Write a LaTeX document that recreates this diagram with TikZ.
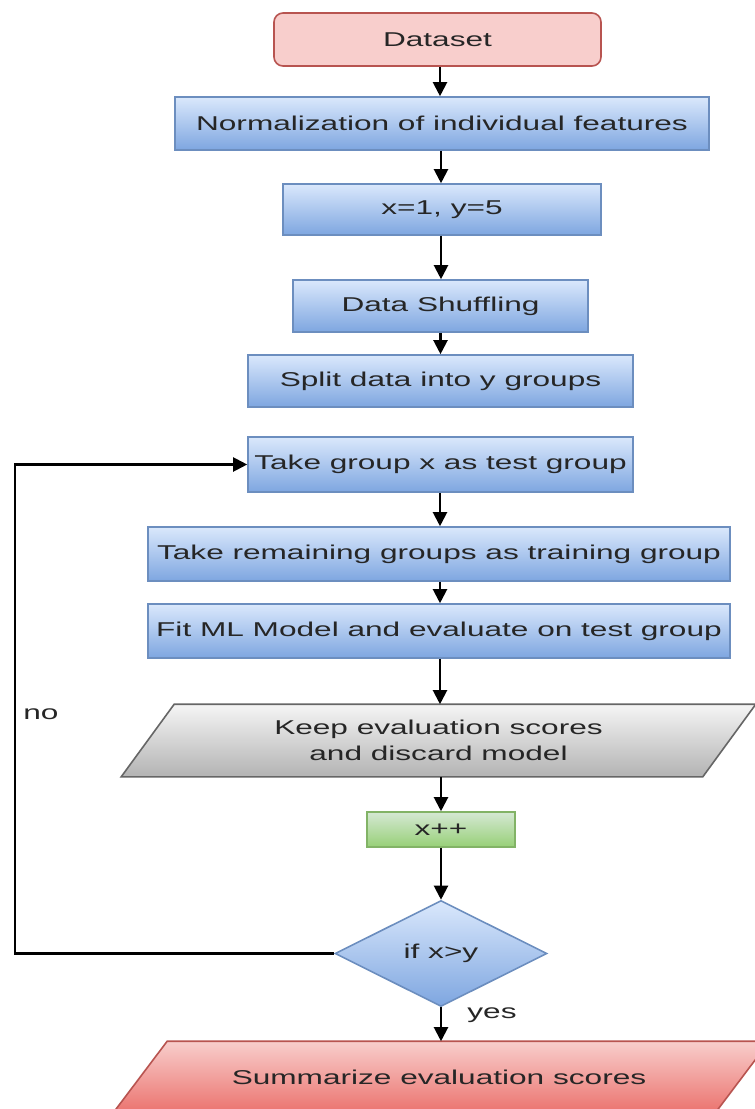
\documentclass[tikz,border=0pt]{standalone}
\usepackage{fontspec}
\setmainfont{Liberation Sans}[FakeStretch=1.58]
\usetikzlibrary{shapes.geometric,arrows.meta,calc}

\definecolor{txt}{HTML}{262626}
\definecolor{blueTop}{HTML}{DAE8FC}
\definecolor{blueBot}{HTML}{7EA6E0}
\definecolor{blueLine}{HTML}{6C8EBF}
\definecolor{redFill}{HTML}{F8CECC}
\definecolor{redBot}{HTML}{EA6B66}
\definecolor{redLine}{HTML}{B85450}
\definecolor{grayTop}{HTML}{F5F5F5}
\definecolor{grayBot}{HTML}{B3B3B3}
\definecolor{grayLine}{HTML}{666666}
\definecolor{greenTop}{HTML}{D5E8D4}
\definecolor{greenBot}{HTML}{97D077}
\definecolor{greenLine}{HTML}{82B366}

\tikzset{
  base/.style={font=\fontsize{20}{26}\selectfont, text=txt, inner sep=0pt, line width=1.6pt},
  startbox/.style={base, rectangle, rounded corners=9pt, draw=redLine, fill=redFill},
  stepbox/.style={base, rectangle, draw=blueLine, top color=blueTop, bottom color=blueBot},
  iobox/.style={base, rectangle, align=center},
  keepshape/.style={line width=1.6pt, draw=grayLine, top color=grayTop, bottom color=grayBot},
  endshape/.style={line width=1.6pt, draw=redLine, top color=redFill, bottom color=redBot},
  incbox/.style={base, rectangle, draw=greenLine, top color=greenTop, bottom color=greenBot},
  decision/.style={base, diamond, aspect=2, draw=blueLine, top color=blueTop, bottom color=blueBot},
  flow/.style={line width=2.1pt, black, -{Triangle[length=14pt,width=14pt]}},
  lbl/.style={font=\fontsize{20}{24}\selectfont, text=txt, inner sep=0pt}
}

\begin{document}
\begin{tikzpicture}[x=1pt, y=-1pt]
  \useasboundingbox (0,0) rectangle (755,1109);
  \clip (0,0) rectangle (755,1109);
  \fill[white] (0,0) rectangle (755,1109);

  % slanted data shapes: outline drawn from the node's box, text on top
  \node[iobox, minimum width=633, minimum height=71] (keep) at (438.5,740.5) {};
  \path[keepshape] (keep.south west) -- ($(keep.north west)+(53,0)$) -- (keep.north east)
        -- ($(keep.south east)-(53,0)$) -- cycle;
  \node[iobox] at (keep.center) {Keep evaluation scores\\and discard model};

  \node[iobox, minimum width=659, minimum height=76] (summ) at (439,1080) {};
  \path[endshape] (summ.south west) -- ($(summ.north west)+(58.5,0)$) -- (summ.north east)
        -- ($(summ.south east)-(58.5,0)$) -- cycle;
  \node[iobox] at ($(summ.center)+(0,-3)$) {Summarize evaluation scores};

  % process chain
  \node[startbox, minimum width=327, minimum height=53] (data) at (437.5,39.5) {Dataset};
  \node[stepbox, minimum width=534, minimum height=53] (norm) at (442,123.5) {Normalization of individual features};
  \node[stepbox, minimum width=318, minimum height=51] (init) at (442,209.5) {x=1, y=5};
  \node[stepbox, minimum width=295, minimum height=52] (shuf) at (440.5,306) {Data Shuffling};
  \node[stepbox, minimum width=385, minimum height=52] (split) at (440.5,381) {Split data into y groups};
  \node[stepbox, minimum width=385, minimum height=55] (take) at (440.5,464.5) {Take group x as test group};
  \node[stepbox, minimum width=582, minimum height=54] (rest) at (439,554) {Take remaining groups as training group};
  \node[stepbox, minimum width=582, minimum height=54] (fit) at (439,631) {Fit ML Model and evaluate on test group};
  \node[incbox, minimum width=148, minimum height=35] (inc) at (441,829.5) {x++};
  \node[decision, minimum width=212, minimum height=106] (test) at (441,953.5) {if x>y};

  % connectors
  \draw[flow] (data.south -| 440,0) -- (norm.north -| 440,0);
  \draw[flow] (norm.south -| 441,0) -- (init.north -| 441,0);
  \draw[flow] (init.south -| 441,0) -- (shuf.north -| 441,0);
  \draw[flow] (shuf.south -| 440.5,0) -- (split.north -| 440.5,0);
  \draw[flow] (take.south -| 440,0) -- (rest.north -| 440,0);
  \draw[flow] (rest.south -| 440,0) -- (fit.north -| 440,0);
  \draw[flow] (fit.south -| 440,0) -- (keep.north -| 440,0);
  \draw[flow] (keep.south -| 441,0) -- (inc.north -| 441,0);
  \draw[flow] (inc.south) -- (test.north);
  \draw[flow] (test.south) -- (summ.north -| test.south);

  % loop back when x is not yet greater than y
  \coordinate (loop) at (15,953.5);
  \draw[flow] (test.west) -- (loop) |- (take.west);

  \node[lbl] (no) at (41,714) {no};
  \node[lbl] (yes) at (492,1015) {yes};
\end{tikzpicture}
\end{document}
